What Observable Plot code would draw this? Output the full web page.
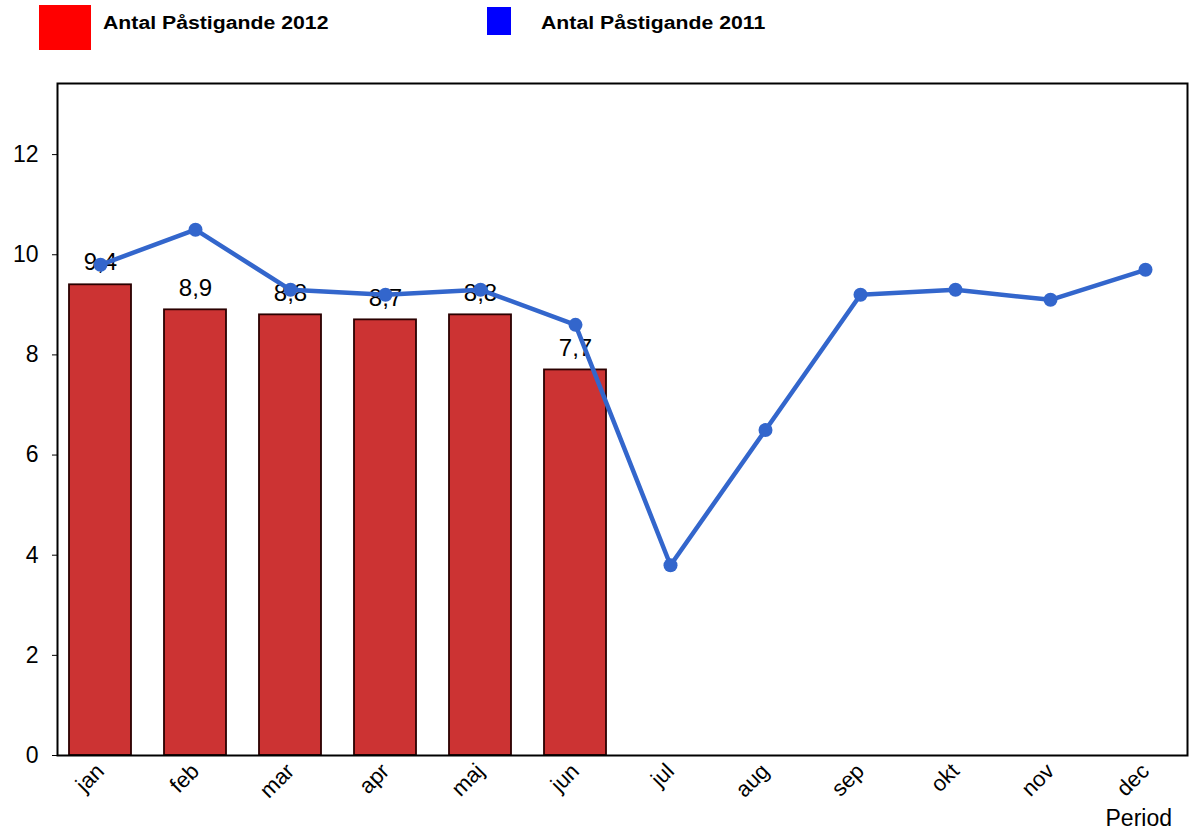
<!DOCTYPE html>
<html>
<head>
<meta charset="utf-8">
<script src="https://cdn.jsdelivr.net/npm/d3@7"></script>
<script src="https://cdn.jsdelivr.net/npm/@observablehq/plot@0.6"></script>
<style>
  html, body { margin: 0; padding: 0; background: #fff; }
  body { width: 1191px; height: 834px; position: relative; overflow: hidden; font-family: "Liberation Sans", Arial, sans-serif; }
  #legend { position: relative; height: 55px; }
  .sw { position: absolute; }
  .lt { position: absolute; font-weight: bold; font-size: 18px; color: #000; line-height: 1; white-space: nowrap; transform: scaleX(1.18); transform-origin: 0 50%; }
  #period { position: absolute; right: 19px; top: 805px; font-size: 23px; color: #000; }
</style>
</head>
<body>
<div id="legend"></div>
<div id="chart"></div>
<div id="period">Period</div>
<script>
const months = ["jan","feb","mar","apr","maj","jun","jul","aug","sep","okt","nov","dec"];
const values2012 = [9.4, 8.9, 8.8, 8.7, 8.8, 7.7];
const values2011 = [9.8, 10.5, 9.3, 9.2, 9.3, 8.6, 3.8, 6.5, 9.2, 9.3, 9.1, 9.7];
const yTicks = [0, 2, 4, 6, 8, 10, 12];
const seriesNames = ["Antal Påstigande 2012", "Antal Påstigande 2011"];

const data2012 = values2012.map((v, i) => ({month: months[i], value: v}));
const data2011 = values2011.map((v, i) => ({month: months[i], value: v}));

// legend
const legend = document.getElementById("legend");
legend.innerHTML = `
  <div class="sw" style="left:39px;top:5px;width:52px;height:45px;background:#ff0000"></div>
  <div class="lt" style="left:103px;top:14px">${seriesNames[0]}</div>
  <div class="sw" style="left:487px;top:7px;width:24px;height:28px;background:#0000ff"></div>
  <div class="lt" style="left:541px;top:14px">${seriesNames[1]}</div>
`;

const fmt = v => String(v).replace(".", ",");

const chart = Plot.plot({
  width: 1191,
  height: 779,
  marginLeft: 57,
  marginRight: 4,
  marginTop: 28,
  marginBottom: 79,
  style: {fontFamily: "Liberation Sans, Arial, sans-serif", fontSize: "23px", color: "#000", background: "#fff"},
  x: {type: "band", domain: months, paddingInner: 0.35, paddingOuter: 0.115, label: null},
  y: {domain: [0, 13.42], label: null},
  marks: [
    Plot.barY(data2012, {x: "month", y: "value", fill: "#CC3333", stroke: "#2a0000", strokeWidth: 1.8}),
    Plot.text(data2012, {x: "month", y: "value", text: d => fmt(d.value), dy: -22, fontSize: 24, fill: "#000"}),
    Plot.line(data2011, {x: "month", y: "value", stroke: "#3366CC", strokeWidth: 4.5}),
    Plot.dot(data2011, {x: "month", y: "value", r: 7, fill: "#3366CC"}),
    Plot.frame({stroke: "#000", strokeWidth: 2}),
    Plot.axisY({ticks: yTicks, tickSize: 5, tickPadding: 14, fontSize: 23, tickFormat: d => String(d), label: null}),
    Plot.axisX({tickSize: 0, tickPadding: 12, tickRotate: -45, fontSize: 22, label: null})
  ]
});
document.getElementById("chart").appendChild(chart);
</script>
</body>
</html>
